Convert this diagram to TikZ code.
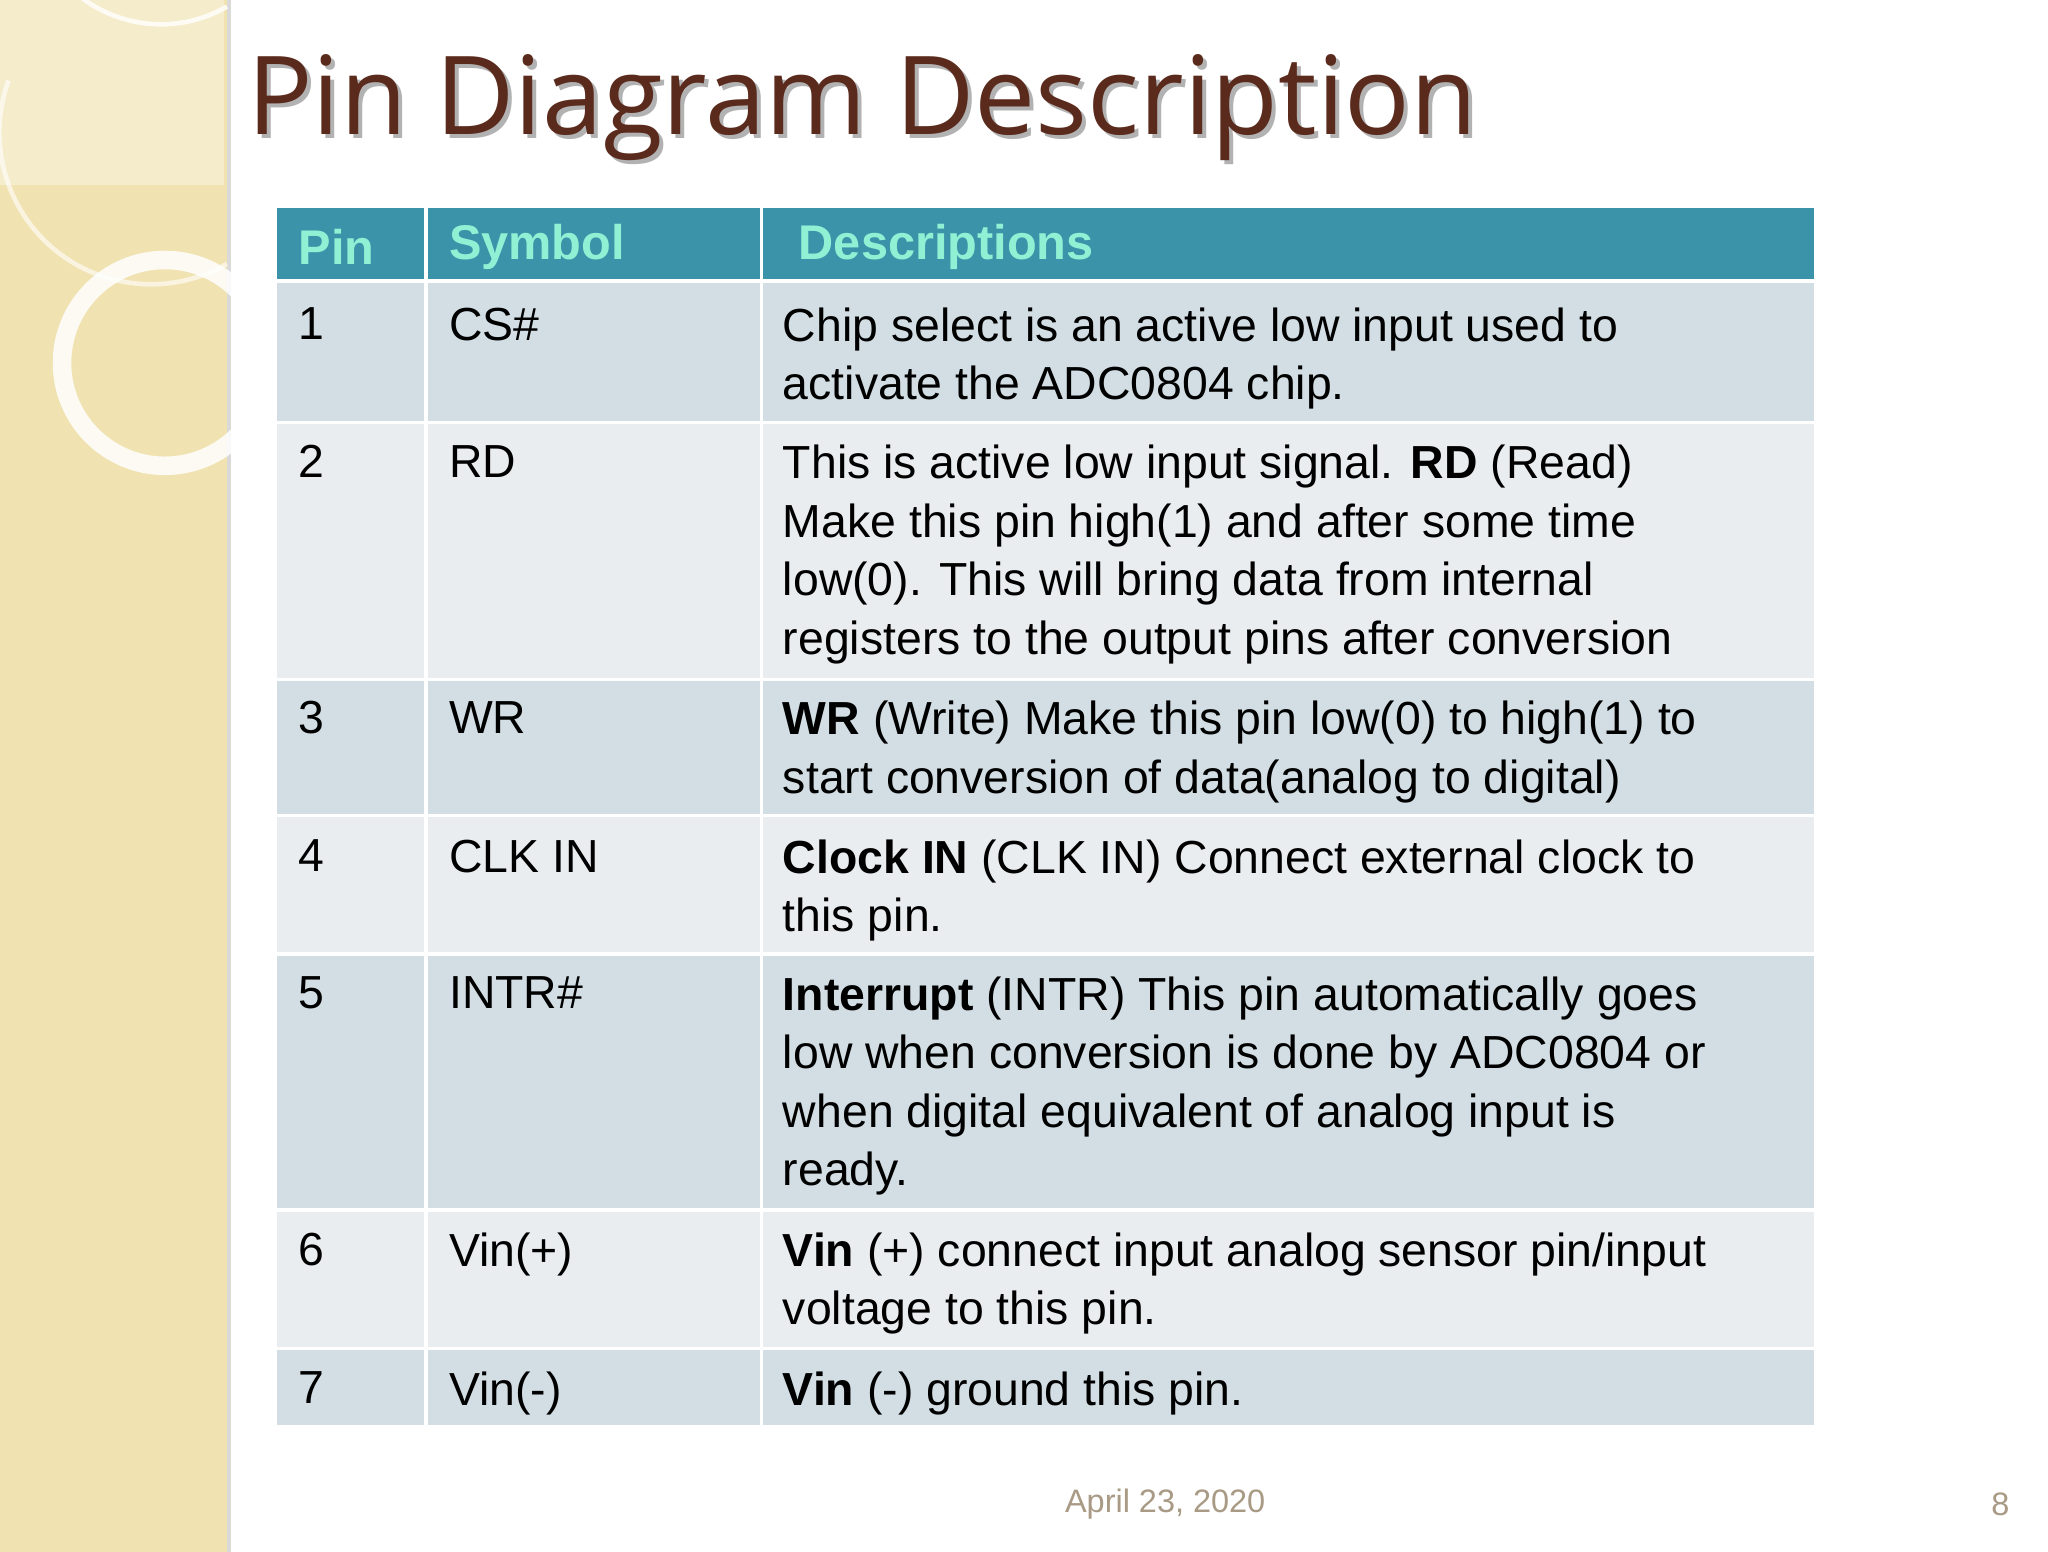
\documentclass[tikz,border=0pt]{standalone}
\usepackage{fontspec}
\setmainfont{Liberation Sans}
\newfontfamily\titlefont{Open Sans}
\definecolor{beige}{HTML}{F1E2B2}
\definecolor{hdr}{HTML}{3A93A8}
\definecolor{hdrtxt}{HTML}{90F0D4}
\definecolor{rowa}{HTML}{D2DEE3}
\definecolor{rowb}{HTML}{E9EDF0}
\definecolor{ttl}{HTML}{5A2A1C}
\definecolor{foot}{HTML}{A89A84}
\tikzset{
 cell/.style={draw=white,line width=1.5pt},
 txt/.style={anchor=north west,inner sep=0pt,align=left,font=\fontsize{20}{25.2}\selectfont},
 htxt/.style={anchor=west,inner sep=0pt,text=hdrtxt,font=\fontsize{21}{25}\selectfont\bfseries},
}
\begin{document}
\begin{tikzpicture}[x=0.02cm,y=-0.02cm]
\useasboundingbox (0,0) rectangle (1552,1176);
\fill[white] (0,0) rectangle (1552,1176);
% left strip
\fill[beige] (0,0) rectangle (172,1176);
\fill[black!15] (172,0) rectangle (175,1176);
\fill[white,opacity=0.35] (0,0) rectangle (170,140);
\draw[white,opacity=0.8,line width=2pt] (172,5) arc[start angle=60,end angle=250,radius=100] ;
\draw[white,opacity=0.85,line width=8pt] (125,275) circle[radius=78];
\draw[white,opacity=0.6,line width=2pt] (172,200) arc[start angle=60,end angle=200,radius=115];
% title
\node[anchor=base west,inner sep=0pt,text=black!30,font=\titlefont\fontsize{47}{50}\selectfont] at (190,105) {Pin Diagram Description};
\node (title) [anchor=base west,inner sep=0pt,text=ttl,font=\titlefont\fontsize{47}{50}\selectfont] at (187,102) {Pin Diagram Description};
% table
\fill[hdr] (210,158) rectangle (1375,213);
\foreach \a/\b/\c in {213/320/rowa,320/515/rowb,515/618/rowa,618/723/rowb,723/917/rowa,917/1022/rowb,1022/1080/rowa}{
 \fill[\c] (210,\a) rectangle (1375,\b);
}
\foreach \y in {213,320,515,618,723,917,1022}{\draw[cell] (210,\y) -- (1375,\y);}
\draw[cell] (323,158) -- (323,1080);
\draw[cell] (577,158) -- (577,1080);
\node[htxt] (h1) at (226,187) {Pin};
\node[htxt] (h2) at (340,187) {Symbol};
\node[htxt] (h3) at (605,187) {Descriptions};
% rows
\foreach \y/\p/\s in {233/1/CS\#,337/2/RD,531/3/WR,636/4/CLK IN,740/5/INTR\#,934/6/Vin(+),1039/7/Vin(-)}{
 \node[txt] at (226,\y) {\p};
 \node[txt] at (340,\y) {\s};
}
\node[txt] (d1) at (593,233) {Chip select is an active low input used to\\activate the ADC0804 chip.};
\node[txt] (d2) at (593,337) {This is active low input signal. \textbf{RD} (Read)\\Make this pin high(1) and after some time\\low(0). This will bring data from internal\\registers to the output pins after conversion};
\node[txt] (d3) at (593,531) {\textbf{WR} (Write) Make this pin low(0) to high(1) to\\start conversion of data(analog to digital)};
\node[txt] (d4) at (593,636) {\textbf{Clock IN} (CLK IN) Connect external clock to\\this pin.};
\node[txt] (d5) at (593,740) {\textbf{Interrupt} (INTR) This pin automatically goes\\low when conversion is done by ADC0804 or\\when digital equivalent of analog input is\\ready.};
\node[txt] (d6) at (593,934) {\textbf{Vin} (+) connect input analog sensor pin/input\\voltage to this pin.};
\node[txt] (d7) at (593,1039) {\textbf{Vin} (-) ground this pin.};
% footer
\node (date) [text=foot,font=\fontsize{14}{16}\selectfont] at (883,1140) {April 23, 2020};
\node (pg) [text=foot,font=\fontsize{14}{16}\selectfont] at (1516,1140) {8};
\end{tikzpicture}
\end{document}
